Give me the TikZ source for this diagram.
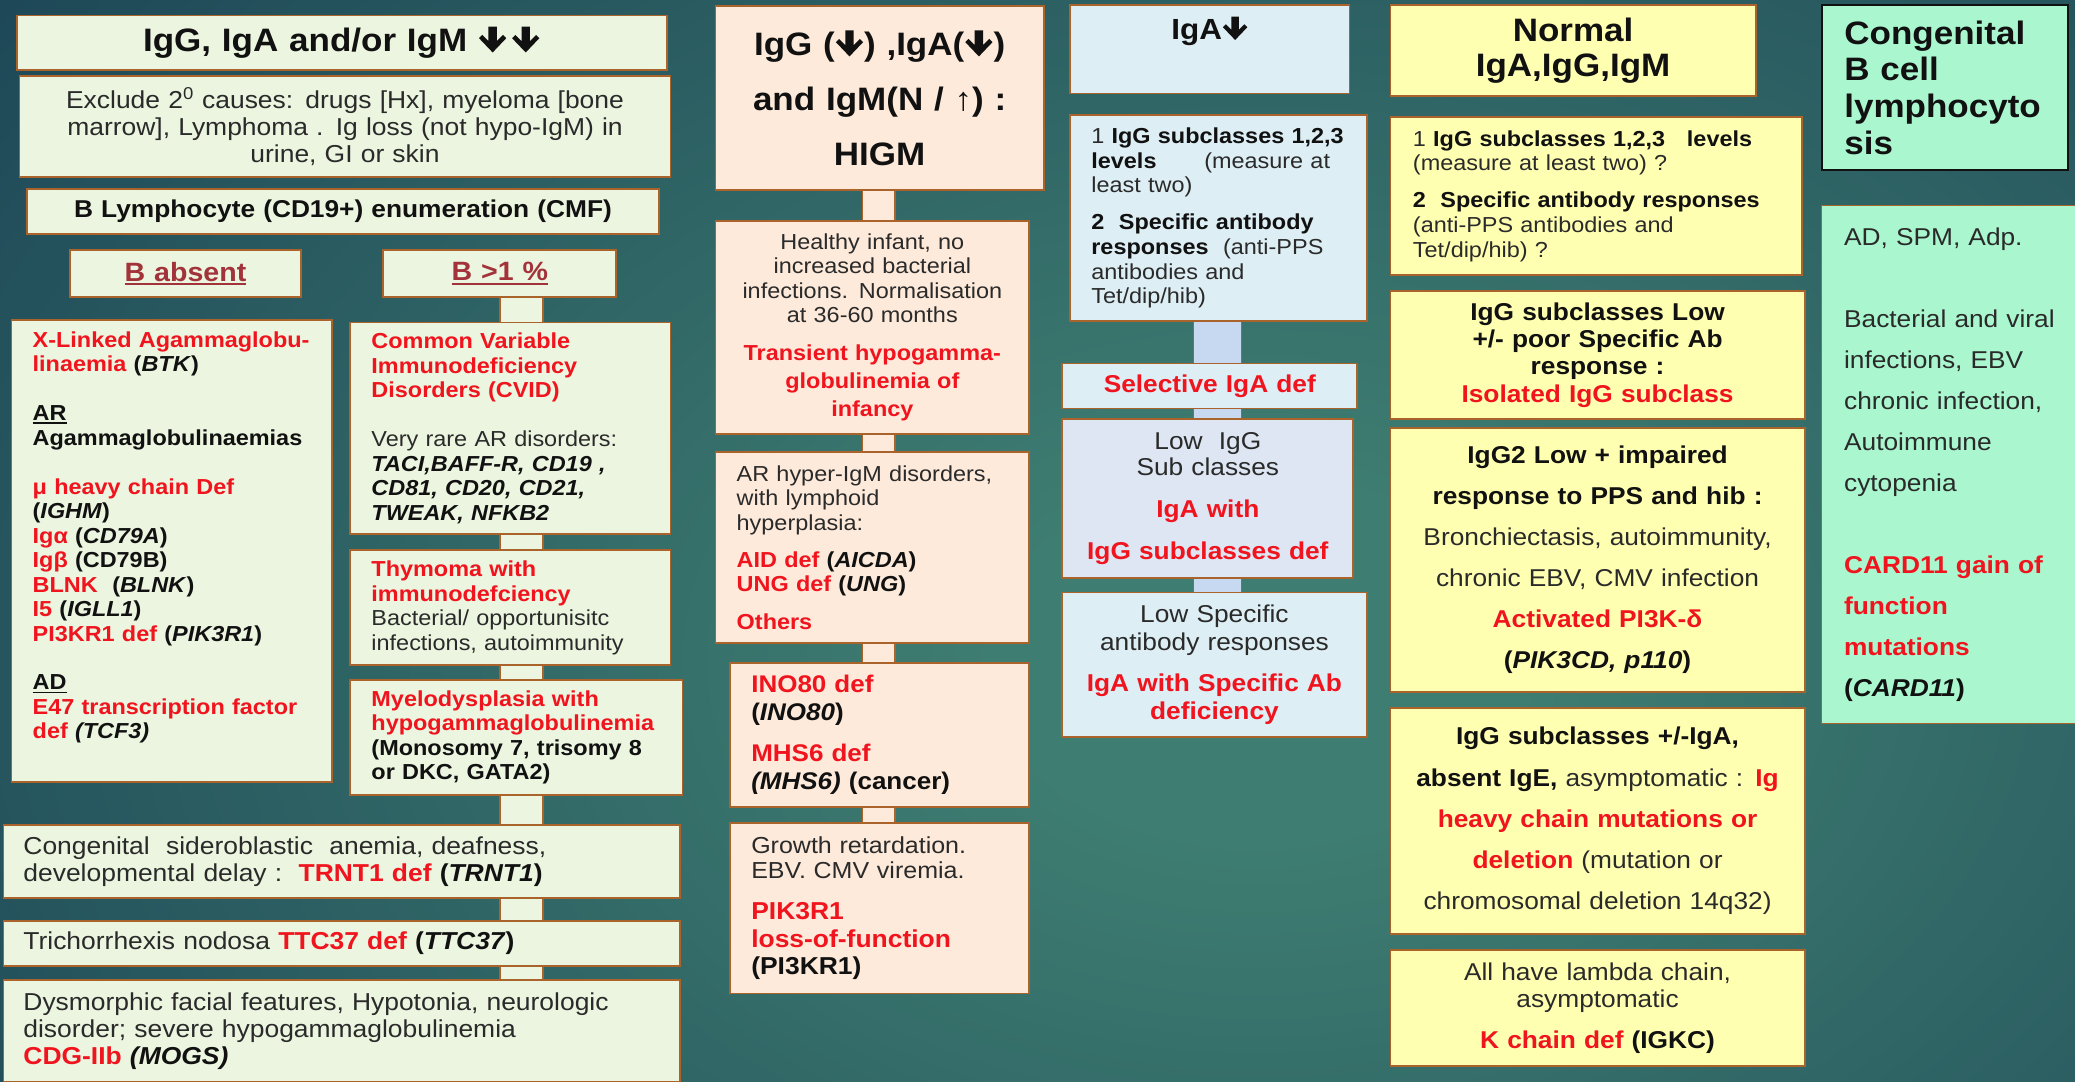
\documentclass[tikz,border=0pt]{standalone}
\usepackage{fontspec}
\setmainfont{Liberation Sans}[FakeStretch=1.08]
\usetikzlibrary{calc}

\definecolor{bgin}{HTML}{3E7D71}
\definecolor{bgout}{HTML}{1C4556}
\definecolor{brd}{HTML}{A9632B}
\definecolor{lgreen}{HTML}{EBF5DF}
\definecolor{peach}{HTML}{FDEADA}
\definecolor{lblue}{HTML}{DDEEF4}
\definecolor{lilac}{HTML}{DDE6F2}
\definecolor{barblue}{HTML}{C6D9F1}
\definecolor{lyellow}{HTML}{FFFFB2}
\definecolor{mint}{HTML}{A9F6CF}
\definecolor{rd}{HTML}{F0141E}
\definecolor{brn}{HTML}{A3333A}
\definecolor{ink}{HTML}{111111}
\definecolor{gry}{HTML}{2A2A2A}

\pgfdeclarelayer{bg}
\pgfsetlayers{bg,main}
\pgfdeclareradialshading{bgglow}{\pgfpoint{0bp}{0bp}}{color(0bp)=(bgin); color(4bp)=(bgin); color(25bp)=(bgout); color(50bp)=(bgout)}

% text helpers
\newcommand\redb[1]{\textcolor{rd}{\bfseries #1}}
\newcommand\blkb[1]{\textcolor{ink}{\bfseries #1}}
\newcommand\undl[1]{\setbox0=\hbox{#1}\rlap{\rule[-0.16em]{\wd0}{0.08em}}\box0}
% heavy downward arrow with a chevron head
\newcommand\dnarr{\kern0.03em\tikz[baseline=0pt,x=1em,y=1em]\fill (-0.13,0.78) -- (0.13,0.78) -- (0.13,0.33) -- (0.32,0.52) -- (0.42,0.42) -- (0,-0.02) -- (-0.42,0.42) -- (-0.32,0.52) -- (-0.13,0.33) -- cycle;\kern0.03em}
\newcommand\fsA{\fontsize{16.4}{18.5}\selectfont}
\newcommand\fsC{\fontsize{18.5}{20.5}\selectfont}

\tikzset{
  panel/.style={draw=brd, line width=1.4pt, rectangle, anchor=north west, inner ysep=0pt, text=gry},
  lpanel/.style={panel, align=left, inner xsep=16pt},
  cpanel/.style={panel, align=center, inner xsep=6pt},
  bar/.style={draw=brd, line width=1.3pt}
}

\begin{document}
\begin{tikzpicture}[x=1pt,y=1pt]
\useasboundingbox (0,0) rectangle (1568,-817);
\begin{pgfonlayer}{bg}
  \begin{scope}
    \clip (0,0) rectangle (1568,-817);
    \shade[shading=bgglow] (-300,350) rectangle (2200,-1350);
  \end{scope}
\end{pgfonlayer}

\coordinate (cL) at (394,0);
\coordinate (cM) at (664,0);
\coordinate (cA) at (920,0);

% ---------- column 1: low IgG, IgA and/or IgM ----------
\node[cpanel, fill=lgreen, minimum width=491pt, minimum height=41pt, text width=479pt,
      font=\fontsize{24.5}{28}\selectfont\bfseries, text=ink] (t1) at (12,-11)
  {IgG, IgA and/or IgM \dnarr\hspace{0.12em}\dnarr};
\node[cpanel, fill=lgreen, minimum width=492pt, minimum height=76pt, text width=480pt, font=\fsC] (excl) at (14,-57)
  {Exclude 2\textsuperscript{0} causes: drugs [Hx], myeloma [bone\\ marrow], Lymphoma . Ig loss (not hypo-IgM) in\\ urine, GI or skin};
\node[cpanel, fill=lgreen, minimum width=477pt, minimum height=34pt, text width=465pt,
      font=\fontsize{18.4}{21}\selectfont\bfseries, text=ink] (blym) at (20,-142)
  {B Lymphocyte (CD19+) enumeration (CMF)};
\node[cpanel, fill=lgreen, minimum width=175pt, minimum height=36pt, text width=163pt,
      font=\fontsize{20}{22}\selectfont\bfseries, text=brn] (babs) at (52,-188) {\undl{B absent}};
\node[cpanel, fill=lgreen, minimum width=176pt, minimum height=36pt, text width=164pt,
      font=\fontsize{20}{22}\selectfont\bfseries, text=brn] (bgt) at (289,-188) {\undl{B >1 \%}};

\node[lpanel, fill=lgreen, minimum width=242pt, minimum height=349pt, text width=210pt, font=\fsA] (xla) at (8,-241)
  {\mbox{\redb{X-Linked Agammaglobu-}}\\
   \redb{linaemia} \blkb{(\textit{BTK})}\\[18.5pt]
   \blkb{\undl{AR}}\\
   \blkb{Agammaglobulinaemias}\\[18.5pt]
   \redb{μ heavy chain Def}\\
   \blkb{(\textit{IGHM})}\\
   \redb{Igα} \blkb{(\textit{CD79A})}\\
   \redb{Igβ} \blkb{(CD79B)}\\
   \redb{BLNK}\ \ \blkb{(\textit{BLNK})}\\
   \redb{I5} \blkb{(\textit{IGLL1})}\\
   \redb{PI3KR1 def} \blkb{(\textit{PIK3R1})}\\[18.5pt]
   \blkb{\undl{AD}}\\
   \redb{E47 transcription factor}\\
   \redb{def} \blkb{\textit{(TCF3)}}\\[5pt]\mbox{}};

\node[lpanel, fill=lgreen, minimum width=242pt, minimum height=160pt, text width=210pt, font=\fsA] (cvid) at (264,-243)
  {\redb{Common Variable}\\
   \redb{Immunodeficiency}\\
   \redb{Disorders (CVID)}\\[18.5pt]
   Very rare AR disorders:\\
   \blkb{\textit{TACI,BAFF-R, CD19 ,}}\\
   \blkb{\textit{CD81, CD20, CD21,}}\\
   \blkb{\textit{TWEAK, NFKB2}}};
\node[lpanel, fill=lgreen, minimum width=242pt, minimum height=87pt, text width=210pt, font=\fsA] (thy) at (264,-415)
  {\redb{Thymoma with}\\
   \redb{immunodefciency}\\
   Bacterial/ opportunisitc\\
   infections, autoimmunity};
\node[lpanel, fill=lgreen, minimum width=251pt, minimum height=87pt, text width=219pt, font=\fsA] (myelo) at (264,-513)
  {\redb{Myelodysplasia with}\\
   \mbox{\redb{hypogammaglobulinemia}}\\
   \blkb{(Monosomy 7, trisomy 8}\\
   \blkb{or DKC, GATA2)}};
\node[lpanel, fill=lgreen, minimum width=511pt, minimum height=55pt, text width=481pt, inner xsep=15pt, font=\fsC] (sidero) at (2,-623)
  {Congenital\ \ sideroblastic\ \ anemia, deafness,\\
   developmental delay :\ \ \redb{TRNT1 def} \blkb{(\textit{TRNT1})}};
\node[lpanel, fill=lgreen, minimum width=511pt, minimum height=34pt, text width=481pt, inner xsep=15pt, font=\fsC] (trich) at (2,-695)
  {Trichorrhexis nodosa \redb{TTC37 def} \blkb{(\textit{TTC37})}};
\node[lpanel, fill=lgreen, minimum width=511pt, minimum height=77pt, text width=481pt, inner xsep=15pt, font=\fsC] (dysm) at (2,-740)
  {Dysmorphic facial features, Hypotonia, neurologic\\
   disorder; severe hypogammaglobulinemia\\
   \redb{CDG-IIb} \blkb{\textit{(MOGS)}}};

% ---------- column 2: hyper-IgM ----------
\node[cpanel, fill=peach, minimum width=248pt, minimum height=139pt, text width=236pt,
      font=\fontsize{24.5}{41.5}\selectfont\bfseries, text=ink] (higm) at (540,-4)
  {IgG (\dnarr) ,IgA(\dnarr)\\ and IgM(N / {\mdseries ↑}) :\\ HIGM};
\node[cpanel, fill=peach, minimum width=237pt, minimum height=161pt, text width=225pt, font=\fsA] (healthy) at (540,-166)
  {Healthy infant, no\\
   increased bacterial\\
   infections. Normalisation\\
   at 36-60 months\\[10.5pt]
   \redb{Transient hypogamma-}\\[2.5pt]
   \redb{globulinemia of}\\[2.5pt]
   \redb{infancy}};
\node[lpanel, fill=peach, minimum width=237pt, minimum height=144pt, text width=205pt, font=\fsA] (arhigm) at (540,-341)
  {AR hyper-IgM disorders,\\
   with lymphoid\\
   hyperplasia:\\[9.5pt]
   \redb{AID def} \blkb{(\textit{AICDA})}\\
   \redb{UNG def} \blkb{(\textit{UNG})}\\[9.5pt]
   \redb{Others}};
\node[lpanel, fill=peach, minimum width=226pt, minimum height=109pt, text width=194pt,
      font=\fontsize{18.2}{21}\selectfont] (ino) at (551,-500)
  {\redb{INO80 def}\\
   \blkb{(\textit{INO80})}\\[10pt]
   \redb{MHS6 def}\\
   \blkb{\textit{(MHS6)} (cancer)}};
\node[lpanel, fill=peach, minimum width=226pt, minimum height=129pt, text width=194pt,
      font=\fontsize{17.5}{19}\selectfont] (growth) at (551,-621)
  {Growth retardation.\\
   EBV. CMV viremia.\\[12pt]
   {\fontsize{18.5}{19}\selectfont\redb{PIK3R1}}\\[1.5pt]
   {\fontsize{18.5}{19}\selectfont\redb{loss-of-function}}\\[1.5pt]
   {\fontsize{18.5}{19}\selectfont\blkb{(PI3KR1)}}};

% ---------- column 3: low IgA ----------
\node[cpanel, fill=lblue, minimum width=211pt, minimum height=67pt, text width=199pt,
      font=\fontsize{22}{26}\selectfont\bfseries, text=ink] (iga) at (808,-3)
  {IgA\dnarr\\[6pt]\mbox{}};
\node[lpanel, fill=lblue, minimum width=224pt, minimum height=156pt, text width=192pt,
      font=\fontsize{16.4}{18.7}\selectfont] (igasub) at (808,-86)
  {\mbox{1 \blkb{IgG subclasses 1,2,3}}\\
   \blkb{levels}\hspace{2.2em}(measure at\\
   least two)\\[9pt]
   \blkb{2\ \ Specific antibody}\\
   \blkb{responses}\ \ (anti-PPS\\
   antibodies and\\
   Tet/dip/hib)};
\node[cpanel, fill=lblue, minimum width=223pt, minimum height=34pt, text width=211pt,
      font=\fontsize{18.4}{21}\selectfont\bfseries, text=rd] (sel) at (802,-274)
  {Selective IgA def};
\node[cpanel, fill=lilac, minimum width=220pt, minimum height=120pt, text width=208pt,
      font=\fontsize{18.4}{20}\selectfont] (lowigg) at (802,-316)
  {Low\ \ IgG\\
   Sub classes\\[11.5pt]
   \redb{IgA with}\\[11.5pt]
   \redb{IgG subclasses def}};
\node[cpanel, fill=lblue, minimum width=230pt, minimum height=109pt, text width=218pt,
      font=\fontsize{18.4}{21}\selectfont] (lowspec) at (802,-447)
  {Low Specific\\
   antibody responses\\[10pt]
   \redb{IgA with Specific Ab}\\
   \redb{deficiency}};

% ---------- column 4: normal immunoglobulins ----------
\node[cpanel, fill=lyellow, minimum width=276pt, minimum height=69pt, text width=264pt,
      font=\fontsize{24.5}{27}\selectfont\bfseries, text=ink] (norm) at (1050,-3)
  {Normal\\ IgA,IgG,IgM};
\node[lpanel, fill=lyellow, minimum width=310pt, minimum height=119pt, text width=277pt, inner xsep=17pt,
      font=\fontsize{16.4}{18.7}\selectfont] (nsub) at (1050,-88)
  {\mbox{1 \blkb{IgG subclasses 1,2,3\ \ \ levels}}\\
   (measure at least two) ?\\[9.3pt]
   \blkb{2\ \ Specific antibody responses}\\
   (anti-PPS antibodies and\\
   Tet/dip/hib) ?};
\node[cpanel, fill=lyellow, minimum width=313pt, minimum height=97pt, text width=301pt,
      font=\fontsize{18.4}{20.7}\selectfont\bfseries, text=ink] (nlow) at (1050,-219)
  {IgG subclasses Low\\
   +/- poor Specific Ab\\
   response :\\
   \redb{Isolated IgG subclass}};
\node[cpanel, fill=lyellow, minimum width=313pt, minimum height=199pt, text width=301pt,
      font=\fontsize{18.4}{31}\selectfont] (ng2) at (1050,-323)
  {\blkb{IgG2 Low + impaired}\\
   \blkb{response to PPS and hib :}\\
   Bronchiectasis, autoimmunity,\\
   chronic EBV, CMV infection\\
   \redb{Activated PI3K-δ}\\
   \blkb{(\textit{PIK3CD, p110})}};
\node[cpanel, fill=lyellow, minimum width=313pt, minimum height=171pt, text width=301pt,
      font=\fontsize{18.4}{31}\selectfont] (nhc) at (1050,-534)
  {\blkb{IgG subclasses +/-IgA,}\\
   \blkb{absent IgE,} asymptomatic : \redb{Ig}\\
   \redb{heavy chain mutations or}\\
   \redb{deletion} (mutation or\\
   chromosomal deletion 14q32)};
\node[cpanel, fill=lyellow, minimum width=313pt, minimum height=88pt, text width=301pt,
      font=\fontsize{18.4}{20.5}\selectfont] (nk) at (1050,-717)
  {All have lambda chain,\\
   asymptomatic\\[10.5pt]
   \redb{K chain def} \blkb{(IGKC)}};

% ---------- column 5: B cell lymphocytosis ----------
\node[lpanel, fill=mint, draw=ink, minimum width=186pt, minimum height=125pt, text width=152pt, inner xsep=17pt,
      font=\fontsize{24.5}{27.7}\selectfont\bfseries, text=ink] (cb) at (1376,-3)
  {Congenital\\ B cell\\ \mbox{lymphocyto}\\ sis};
\node[lpanel, fill=mint, line width=1pt, minimum width=200pt, minimum height=391pt, text width=166pt, inner xsep=17pt,
      font=\fontsize{18.4}{31}\selectfont] (cbody) at (1376,-155)
  {AD, SPM, Adp.\\[31pt]
   \mbox{Bacterial and viral}\\
   infections, EBV\\
   chronic infection,\\
   Autoimmune\\
   cytopenia\\[31pt]
   \redb{CARD11 gain of}\\
   \redb{function}\\
   \redb{mutations}\\
   \blkb{(\textit{CARD11})}};

% ---------- connecting bars ----------
\begin{pgfonlayer}{bg}
  \draw[bar, double=lgreen, double distance=31pt] (bgt.south -| cL) -- (cvid.north -| cL);
  \draw[bar, double=lgreen, double distance=31pt] (cvid.south -| cL) -- (thy.north -| cL);
  \draw[bar, double=lgreen, double distance=31pt] (thy.south -| cL) -- (myelo.north -| cL);
  \draw[bar, double=lgreen, double distance=31pt] (myelo.south -| cL) -- (sidero.north -| cL);
  \draw[bar, double=lgreen, double distance=31pt] (sidero.south -| cL) -- (trich.north -| cL);
  \draw[bar, double=lgreen, double distance=31pt] (trich.south -| cL) -- (dysm.north -| cL);
  \draw[bar, double=peach, double distance=23pt] (higm.south -| cM) -- (healthy.north -| cM);
  \draw[bar, double=peach, double distance=23pt] (healthy.south -| cM) -- (arhigm.north -| cM);
  \draw[bar, double=peach, double distance=23pt] (arhigm.south -| cM) -- (ino.north -| cM);
  \draw[bar, double=peach, double distance=23pt] (ino.south -| cM) -- (growth.north -| cM);
  \draw[bar, double=barblue, double distance=35pt] (igasub.south -| cA) -- (sel.north -| cA);
  \draw[bar, double=barblue, double distance=35pt] (sel.south -| cA) -- (lowigg.north -| cA);
  \draw[bar, double=barblue, double distance=35pt] (lowigg.south -| cA) -- (lowspec.north -| cA);
\end{pgfonlayer}
\end{tikzpicture}
\end{document}
